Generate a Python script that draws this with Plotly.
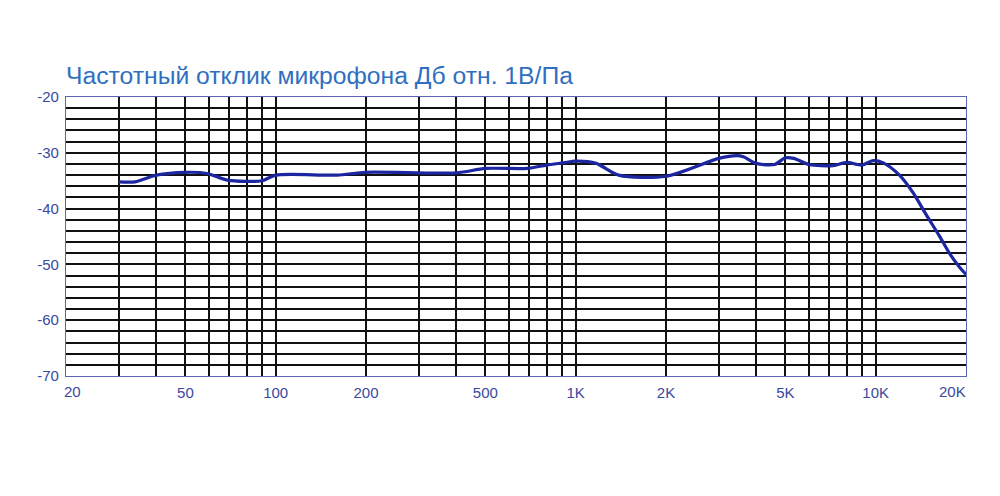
import plotly.graph_objects as go
import numpy as np

# Data
freq_hz = [30, 34, 40, 50, 59, 69, 90, 100, 160, 200, 400, 500, 690, 800, 910,
           1000, 1170, 1390, 2000, 3000, 3440, 3620, 4000, 4600, 5000, 5330,
           6000, 7200, 8000, 9000, 9800, 10600, 12000, 13300, 14700, 16300,
           17800, 19100, 20000]
level_db = [-35.2, -35.2, -34.0, -33.5, -33.7, -34.9, -35.0, -34.0, -34.0, -33.5,
            -33.6, -32.8, -32.8, -32.2, -31.8, -31.5, -31.9, -34.0, -34.2, -31.0,
            -30.5, -30.7, -31.9, -32.1, -30.9, -31.0, -32.1, -32.3, -31.7, -32.2,
            -31.4, -31.8, -34.0, -37.1, -41.0, -44.9, -48.4, -50.6, -51.8]

x_grid = [30, 40, 50, 60, 70, 80, 90, 100, 200, 300, 400, 500, 600, 700, 800, 900,
          1000, 2000, 3000, 4000, 5000, 6000, 7000, 8000, 9000, 10000]
x_labels = {50: "50", 100: "100", 200: "200", 500: "500", 1000: "1K",
            2000: "2K", 5000: "5K", 10000: "10K"}
x_edge_labels = [(20, "20"), (20000, "20K")]

y_grid = list(range(-70, -19, 2))
y_labels = {-20: "-20", -30: "-30", -40: "-40", -50: "-50", -60: "-60", -70: "-70"}

title_text = "Частотный отклик микрофона Дб отн. 1В/Па"

label_color = "#3a48a0"
font_family = "Liberation Sans, Arial, sans-serif"

fig = go.Figure()
fig.add_trace(go.Scatter(
    x=freq_hz, y=level_db, mode="lines",
    line=dict(color="#1c26a0", width=3.2, shape="spline", smoothing=0.8),
    hoverinfo="skip", showlegend=False,
))

fig.update_layout(
    width=1000, height=496,
    margin=dict(l=58, r=42, t=89, b=128, autoexpand=False),
    paper_bgcolor="white", plot_bgcolor="white",
    font=dict(family=font_family, size=15, color=label_color),
    title=dict(text=title_text, x=58 / 1000, xanchor="left", xref="container",
               y=1 - 67 / 496, yanchor="middle", yref="container",
               font=dict(family=font_family, size=24.7, color="#2f6fc0")),
    showlegend=False,
)

fig.update_xaxes(
    type="log", range=[np.log10(20), np.log10(20000)],
    tickmode="array", tickvals=x_grid,
    ticktext=[x_labels.get(v, "") for v in x_grid],
    ticks="", ticklabelstandoff=3, showgrid=True, gridcolor="#111111", gridwidth=1.5,
    showline=True, linecolor="#5a64b4", linewidth=1.2, mirror=True,
    zeroline=False, automargin=False, tickfont=dict(size=15, color=label_color),
)
fig.update_yaxes(
    range=[-70, -20],
    tickmode="array", tickvals=y_grid,
    ticktext=[y_labels.get(v, "") for v in y_grid],
    ticks="", ticklabelstandoff=3, showgrid=True, gridcolor="#111111", gridwidth=1.5,
    showline=True, linecolor="#5a64b4", linewidth=1.2, mirror=True,
    zeroline=False, automargin=False, tickfont=dict(size=15, color=label_color),
)

for val, txt in x_edge_labels:
    fig.add_annotation(
        x=np.log10(val), y=0, xref="x", yref="paper",
        text=txt, showarrow=False,
        xanchor="left" if val == 20 else "right", yanchor="top",
        xshift=-4 if val == 20 else 2, yshift=-5,
        font=dict(size=15, color=label_color, family=font_family),
    )

fig.write_html("out.html")
